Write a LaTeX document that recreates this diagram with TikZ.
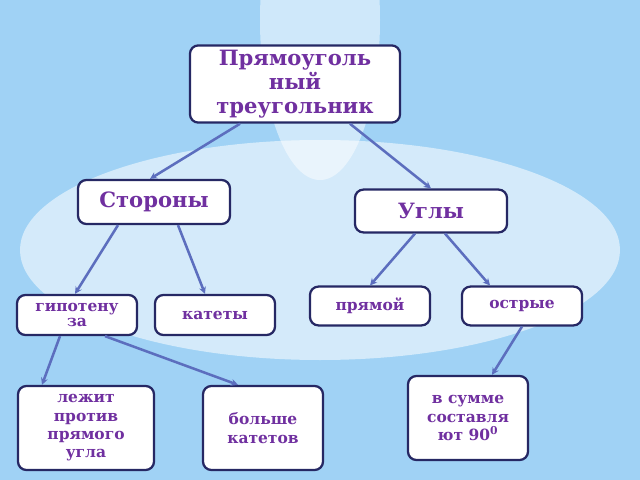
\documentclass[tikz,border=0pt]{standalone}
\usepackage{fontspec}
\setmainfont{DejaVu Serif}
\usetikzlibrary{arrows.meta, positioning, calc}
\definecolor{textcolor}{RGB}{112, 48, 160}
\definecolor{framecolor}{RGB}{38, 40, 100}
\definecolor{linkcolor}{RGB}{92, 110, 190}
\definecolor{skycolor}{RGB}{160, 210, 245}
\tikzstyle{conceptbox} = [
    rectangle,
    rounded corners=6pt,
    align=center,
    draw=framecolor,
    line width=1.6pt,
    fill=white,
    text=textcolor,
    font=\bfseries
]
\tikzstyle{link} = [
    -{Stealth[length=5pt,width=5pt]},
    line width=1.8pt,
    color=linkcolor
]
\begin{document}
\begin{tikzpicture}[x=0.025cm, y=-0.025cm]

% Background
\useasboundingbox (0,0) rectangle (640,480);
\clip (0,0) rectangle (640,480);
\fill[skycolor] (0,0) rectangle (640,480);
\fill[white, opacity=0.55] (320,250) ellipse (300 and 110);
\fill[white, opacity=0.5] (320,20) ellipse (60 and 160);

% Root
\node[conceptbox, minimum width=5.25cm, minimum height=1.7cm, font=\bfseries\fontsize{15}{17}\selectfont] (root) at (295,84) {Прямоуголь\\ный\\треугольник};

% Level 1
\node[conceptbox, minimum width=3.8cm, minimum height=1.1cm, font=\bfseries\fontsize{15}{15}\selectfont] (sides) at (154,202) {Стороны};
\node[conceptbox, minimum width=3.8cm, minimum height=1.07cm, font=\bfseries\fontsize{15}{15}\selectfont] (angles) at (431,211) {Углы};

% Level 2
\node[conceptbox, minimum width=3cm, minimum height=1cm, font=\bfseries\fontsize{11}{10}\selectfont] (hyp) at (77,315) {гипотену\\за};
\node[conceptbox, minimum width=3cm, minimum height=1cm, font=\bfseries\fontsize{11}{11}\selectfont] (legs) at (215,315) {катеты};
\node[conceptbox, minimum width=3cm, minimum height=0.97cm, font=\bfseries\fontsize{11}{11}\selectfont] (right) at (370,306) {прямой};
\node[conceptbox, minimum width=3cm, minimum height=0.97cm, font=\bfseries\fontsize{11}{11}\selectfont] (acute) at (522,306) {острые};

% Level 3
\node[conceptbox, minimum width=3.4cm, minimum height=2.1cm, font=\bfseries\fontsize{11}{13}\selectfont] (opposite) at (86,428) {лежит\\против\\прямого\\угла};
\node[conceptbox, minimum width=3cm, minimum height=2.1cm, font=\bfseries\fontsize{11}{13}\selectfont] (longer) at (263,428) {больше\\катетов};
\node[conceptbox, minimum width=3cm, minimum height=2.1cm, font=\bfseries\fontsize{11}{13}\selectfont] (sum) at (468,418) {в сумме\\составля\\ют 90\textsuperscript{0}};

% Links
\draw[link] ([xshift=-55*0.025cm]root.south) -- ([xshift=-4*0.025cm]sides.north);
\draw[link] ([xshift=55*0.025cm]root.south) -- (angles.north);
\draw[link] ([xshift=-36*0.025cm]sides.south) -- ([xshift=-2*0.025cm]hyp.north);
\draw[link] ([xshift=24*0.025cm]sides.south) -- ([xshift=-10*0.025cm]legs.north);
\draw[link] ([xshift=-16*0.025cm]angles.south) -- (right.north);
\draw[link] ([xshift=14*0.025cm]angles.south) -- ([xshift=-32*0.025cm]acute.north);
\draw[link] ([xshift=-17*0.025cm]hyp.south) -- ([xshift=-44*0.025cm]opposite.north);
\draw[link] ([xshift=28*0.025cm]hyp.south) -- ([xshift=-25*0.025cm]longer.north);
\draw[link] (acute.south) -- ([xshift=24*0.025cm]sum.north);

\end{tikzpicture}
\end{document}
